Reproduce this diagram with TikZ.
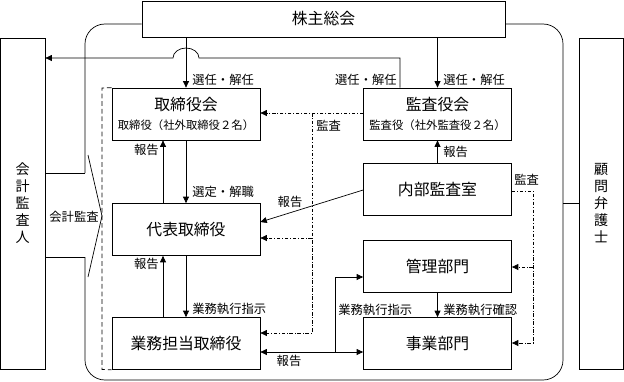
\documentclass[tikz,border=0pt]{standalone}
\usepackage{fontspec}
\setmainfont{Noto Sans CJK JP}
\usetikzlibrary{arrows.meta,calc}

\tikzset{
  box/.style={draw, inner sep=0pt, minimum width=4.44cm, minimum height=1.56cm,
    font=\fontsize{13.5}{15}\selectfont},
  tatebox/.style={draw, inner sep=0pt, minimum width=1.335cm, minimum height=9.93cm,
    align=center, font=\fontsize{12}{14.5}\selectfont},
  lbl/.style={inner sep=0pt, font=\fontsize{10.5}{12}\selectfont},
  arr/.style={-{Triangle[length=5.5pt,width=5pt]}},
  kansa/.style={dash pattern=on 3pt off 1.5pt on 0.8pt off 1.5pt},
}

\begin{document}
\begin{tikzpicture}[x=0.03cm, y=-0.03cm, line width=0.6pt]
  \useasboundingbox (0,0) rectangle (624,381);

  \node[box, minimum width=10.89cm, minimum height=1.08cm] (soukai) at (323.5,19) {株主総会};
  \node[tatebox] (kansanin) at (22.75,203.5) {会\\計\\監\\査\\人};
  \node[tatebox] (bengoshi) at (601.25,203.5) {顧\\問\\弁\\護\\士};

  \node[box, align=center] (torikai) at (186,114)
    {取締役会\\[1pt]{\fontsize{9.7}{11}\selectfont 取締役（社外取締役２名）}};
  \node[box, align=center] (kansakai) at (437.5,114)
    {監査役会\\[1pt]{\fontsize{9.7}{11}\selectfont 監査役（社外監査役２名）}};
  \node[box] (daihyo) at (186,229.5) {代表取締役};
  \node[box] (naibu)  at (437.5,189.5) {内部監査室};
  \node[box] (kanri)  at (437.5,266) {管理部門};
  \node[box] (jigyo)  at (437.5,343.5) {事業部門};
  \node[box] (gyomu)  at (186,343.5) {業務担当取締役};

  % 枠
  \draw[rounded corners=17pt] (soukai.west |- 0,24) -| (85,173);
  \draw[rounded corners=17pt] (85,257) |- (563,380) |- (soukai.east |- 0,24);
  \draw (bengoshi.west |- 0,203) -- (563,203);

  % 会計監査
  \draw (kansanin.east |- 0,173) -- (85,173);
  \draw (kansanin.east |- 0,257) -- (85,257);
  \draw (88,155) -- (102,216) -- (88,277);
  \node[lbl] (kaikei) at (74,217) {会計監査};

  \draw[dash pattern=on 4pt off 2.5pt] (torikai.north west) -- (102,88) -- (102,369.5) -- (gyomu.south west);

  % 選任・解任
  \coordinate (hop) at (torikai.north |- 0,58);
  \draw[arr] (torikai.north |- soukai.south) -- (torikai.north);
  \draw[arr] (kansakai.north |- soukai.south) -- (kansakai.north);
  \draw[arr] (kansakai.north -| 400,0) -- (400,58) -- ([xshift=0.39cm]hop)
    arc[start angle=0, end angle=180, x radius=0.39cm, y radius=0.3cm]
    -- (kansanin.east |- hop);
  \node[lbl, anchor=west] (sennin1) at (192,80) {選任・解任};
  \node[lbl, anchor=west] (sennin2) at (443,80) {選任・解任};
  \node[lbl, anchor=east] (sennin3) at (397,80) {選任・解任};

  \draw[arr] (daihyo.north -| 163,0) -- (torikai.south -| 163,0);
  \draw[arr] (torikai.south) -- (daihyo.north);
  \node[lbl, anchor=east] (hokoku1) at (159,150) {報告};
  \node[lbl, anchor=west] (sentei) at (192,192) {選定・解職};

  \draw[arr] (gyomu.north -| 163,0) -- (daihyo.south -| 163,0);
  \draw[arr] (daihyo.south) -- (gyomu.north);
  \node[lbl, anchor=east] (hokoku2) at (159,264) {報告};
  \node[lbl, anchor=west] (shiji1) at (192,309) {業務執行指示};

  \draw[arr] (naibu.north) -- (kansakai.south);
  \node[lbl, anchor=west] (hokoku3) at (443,152) {報告};
  \draw[arr] (naibu.west |- 0,190) -- (daihyo.east |- 0,222);
  \node[lbl] (hokoku4) at (290,202) {報告};

  % 監査
  \draw[kansa, arr] (kansakai.west |- 0,113) -- (torikai.east |- 0,113);
  \draw[kansa, arr] (312,113) -- (312,333) -- (gyomu.east |- 0,333);
  \draw[kansa, arr] (312,238) -- (daihyo.east |- 0,238);
  \node[lbl, anchor=west] (kansa1) at (316,126) {監査};
  \draw[kansa, arr] (naibu.east |- 0,191) -- (533,191) -- (533,343) -- (jigyo.east |- 0,343);
  \draw[kansa, arr] (533,267) -- (kanri.east |- 0,267);
  \node[lbl, anchor=west] (kansa2) at (514,180) {監査};

  % 業務執行
  \coordinate (bunki) at (335,352);
  \draw[arr] (bunki) -- (gyomu.east |- bunki);
  \draw[arr] (bunki) -- (jigyo.west |- bunki);
  \draw[arr] (bunki) -- (335,277) -- (kanri.west |- 0,277);
  \node[lbl] (hokoku5) at (289,361) {報告};
  \node[lbl, anchor=west] (shiji2) at (338,310) {業務執行指示};
  \draw[arr] (kanri.south) -- (jigyo.north);
  \node[lbl, anchor=west] (kakunin) at (443,310) {業務執行確認};
\end{tikzpicture}
\end{document}
